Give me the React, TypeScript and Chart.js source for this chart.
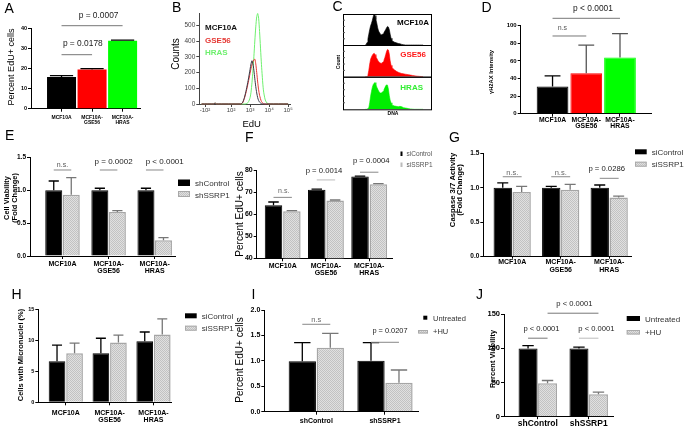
import React, { useEffect, useRef } from 'react';
import { Chart, registerables } from 'chart.js';
Chart.register(...registerables);

const FONT = '"Liberation Sans", Arial, Helvetica, sans-serif';
const W = 685;
const H = 435;

// ---------------- data ----------------
const cellLineTicks = [['MCF10A'], ['MCF10A-', 'GSE56'], ['MCF10A-', 'HRAS']];
const shTicks = [['shControl'], ['shSSRP1']];

// A
const aEdU = [15.8, 19.6, 34.0];
const aEdUErr = [0.7, 0.4, 0.3];

// B (flow histogram, x in log decades)
const bTicks = [0.63, 2, 3, 4, 5];
const bTickLabels = ['-10²', '10²', '10³', '10⁴', '10⁵'];
const bCountTicks = [0, 100, 200, 300, 400, 500];
const bEdU = [0.45, 1.1, 1.16, 1.22, 2.5, 2.6, 2.7, 2.8, 2.9, 3.0, 3.05, 3.1, 3.15, 3.2, 3.25, 3.3, 3.35, 3.4, 3.45, 3.5, 3.6, 3.7, 3.8, 3.9, 4.0, 5.0];
const bMCF10A = [0, 0, 7, 0, 0, 8, 40, 90, 150, 220, 255, 275, 255, 215, 160, 110, 70, 40, 22, 12, 2, 0, 0, 0, 0, 0];
const bGSE56 = [0, 0, 7, 0, 0, 6, 35, 80, 135, 195, 225, 250, 268, 280, 285, 255, 200, 140, 90, 55, 15, 2, 0, 0, 0, 0];
const bHRAS = [0, 0, 7, 0, 0, 0, 0, 2, 10, 40, 75, 135, 210, 300, 400, 490, 555, 575, 545, 460, 250, 90, 25, 5, 0, 0];

// C (DNA content histograms)
const cChannel = [25, 26, 27, 28, 29, 30, 31, 32, 33, 34, 35, 36, 37, 38, 39, 40, 41, 42, 43, 44, 45, 46, 47, 48, 49, 50, 51, 52, 53, 54, 55, 56,
  58, 60, 62, 64, 66, 68, 70, 72, 74, 76, 78, 80, 82, 84, 86, 88, 90];
const cMCF10A = [0, 0.02, 0.08, 0.2, 0.35, 0.5, 0.62, 0.7, 0.8, 0.92, 1.0, 0.95, 0.82, 0.7, 0.55, 0.45, 0.4, 0.35, 0.33, 0.34, 0.36, 0.4, 0.45, 0.5, 0.56, 0.6, 0.58, 0.5, 0.35, 0.22, 0.15, 0.12,
  0.09, 0.07, 0.05, 0.04, 0.02, 0.01, 0, 0, 0, 0, 0, 0, 0, 0, 0, 0, 0];
const cGSE56 = [0, 0, 0, 0.05, 0.2, 0.4, 0.55, 0.62, 0.68, 0.72, 0.74, 0.7, 0.62, 0.58, 0.52, 0.48, 0.45, 0.43, 0.42, 0.44, 0.47, 0.52, 0.6, 0.7, 0.8, 0.86, 0.84, 0.72, 0.5, 0.36, 0.3, 0.26,
  0.21, 0.17, 0.14, 0.12, 0.1, 0.09, 0.08, 0.07, 0.06, 0.05, 0.04, 0.03, 0.02, 0.015, 0.01, 0.005, 0];
const cHRAS = [0, 0, 0, 0, 0.05, 0.2, 0.4, 0.55, 0.68, 0.76, 0.8, 0.82, 0.76, 0.68, 0.62, 0.56, 0.52, 0.5, 0.5, 0.52, 0.55, 0.6, 0.66, 0.72, 0.75, 0.74, 0.62, 0.42, 0.28, 0.2, 0.15, 0.12,
  0.1, 0.09, 0.08, 0.09, 0.08, 0.05, 0.04, 0.03, 0.02, 0.01, 0.005, 0, 0, 0, 0, 0, 0];

// D
const dH2AX = [31, 46, 64];
const dH2AXErr = [12, 32, 27];

// E
const eShControl = [1.0, 1.0, 1.0];
const eShControlErr = [0.14, 0.03, 0.03];
const eShSSRP1 = [0.93, 0.67, 0.24];
const eShSSRP1Err = [0.26, 0.02, 0.04];

// F
const fSiControl = [64, 71, 77];
const fSiControlErr = [1.5, 0.3, 0.2];
const fSiSSRP1 = [61.3, 66.2, 73.6];
const fSiSSRP1Err = [0.3, 0.2, 0.2];

// G
const gSiControl = [1.0, 1.0, 1.0];
const gSiControlErr = [0.07, 0.02, 0.04];
const gSiSSRP1 = [0.94, 0.97, 0.86];
const gSiSSRP1Err = [0.08, 0.08, 0.02];

// H
const hSiControl = [6.6, 7.9, 9.8];
const hSiControlErr = [2.6, 2.4, 1.5];
const hSiSSRP1 = [7.9, 9.6, 10.9];
const hSiSSRP1Err = [1.6, 1.2, 2.5];

// I
const iUntreated = [0.99, 1.0];
const iUntreatedErr = [0.37, 0.36];
const iHU = [1.26, 0.57];
const iHUErr = [0.28, 0.25];

// J
const jUntreated = [100, 100];
const jUntreatedErr = [4, 2];
const jHU = [49, 33];
const jHUErr = [4, 3];

// ---------------- helpers ----------------
type TextItem = { t: string; x: number; y: number; size: number; bold?: boolean; color?: string; align?: CanvasTextAlign; rot?: boolean };
type Box = { x: number; y: number; w: number; h: number; fill: string; stroke?: string };
type Sig = { a: [number, number]; b: [number, number]; y: number; text: string; dx: number; dy: number; size: number; color?: string; line?: string };
type Series = { values: number[]; errors: number[]; fill: any; border: any; bw: number; errColor: any };
type BarPanel = {
  plot: [number, number, number, number];
  x: [number, number];
  y: [number, number, number];
  dec: number;
  ticks: string[][];
  xFont: number; xLh: number; xPad: number; xTick?: number;
  yFont: number;
  catPct: number; barPct: number; cap: number;
  series: Series[];
  sigs: Sig[];
  texts: TextItem[];
  boxes: Box[];
};

let patternCache: CanvasPattern | null = null;
function getPattern(): CanvasPattern {
  if (patternCache) return patternCache;
  const c = document.createElement('canvas');
  c.width = 4; c.height = 4;
  const g = c.getContext('2d')!;
  g.fillStyle = '#e0e0e0';
  g.fillRect(0, 0, 4, 4);
  g.fillStyle = '#c2c2c2';
  for (let y = 0; y < 4; y++) for (let x = 0; x < 4; x++) if ((x + y) % 2 === 0) g.fillRect(x, y, 1, 1);
  patternCache = g.createPattern(c, 'repeat')!;
  return patternCache;
}

function drawTexts(ctx: CanvasRenderingContext2D, texts: TextItem[]) {
  texts.forEach((tx) => {
    ctx.save();
    ctx.font = `${tx.bold ? 'bold ' : ''}${tx.size}px ${FONT}`;
    ctx.fillStyle = tx.color || '#000';
    if (tx.rot) {
      ctx.translate(tx.x, tx.y);
      ctx.rotate(-Math.PI / 2);
      ctx.textAlign = 'center';
      ctx.textBaseline = 'middle';
      ctx.fillText(tx.t, 0, 0);
    } else {
      ctx.textAlign = tx.align || 'left';
      ctx.textBaseline = 'alphabetic';
      ctx.fillText(tx.t, tx.x, tx.y);
    }
    ctx.restore();
  });
}

function drawBoxes(ctx: CanvasRenderingContext2D, boxes: Box[]) {
  boxes.forEach((b) => {
    ctx.save();
    ctx.fillStyle = b.fill === 'pattern' ? getPattern() : b.fill;
    ctx.fillRect(b.x, b.y, b.w, b.h);
    if (b.stroke) {
      ctx.strokeStyle = b.stroke;
      ctx.lineWidth = 1;
      ctx.strokeRect(b.x + 0.5, b.y + 0.5, b.w - 1, b.h - 1);
    }
    ctx.restore();
  });
}

function pick(v: any, i: number) {
  return Array.isArray(v) ? v[i] : v;
}

function barExtras(p: BarPanel) {
  return {
    id: 'barExtras',
    afterDatasetsDraw(chart: any) {
      const ctx: CanvasRenderingContext2D = chart.ctx;
      const ys = chart.scales.y;
      chart.data.datasets.forEach((ds: any, di: number) => {
        const meta = chart.getDatasetMeta(di);
        meta.data.forEach((bar: any, i: number) => {
          const v = ds.data[i].y;
          const e = ds.errors[i];
          const top = ys.getPixelForValue(v + e);
          const half = bar.width * p.cap;
          ctx.save();
          ctx.strokeStyle = pick(ds.errColor, i);
          ctx.lineWidth = 1.3;
          ctx.beginPath();
          ctx.moveTo(bar.x, bar.y);
          ctx.lineTo(bar.x, top);
          ctx.moveTo(bar.x - half, top);
          ctx.lineTo(bar.x + half, top);
          ctx.stroke();
          ctx.restore();
        });
      });
    },
    afterDraw(chart: any) {
      const ctx: CanvasRenderingContext2D = chart.ctx;
      const ys = chart.scales.y;
      p.sigs.forEach((s) => {
        const m1 = chart.getDatasetMeta(s.a[0]).data[s.a[1]];
        const m2 = chart.getDatasetMeta(s.b[0]).data[s.b[1]];
        const yy = ys.getPixelForValue(s.y);
        ctx.save();
        ctx.strokeStyle = s.line || '#888';
        ctx.lineWidth = 1;
        ctx.beginPath();
        ctx.moveTo(m1.x, yy);
        ctx.lineTo(m2.x, yy);
        ctx.stroke();
        ctx.font = `${s.size}px ${FONT}`;
        ctx.fillStyle = s.color || '#222';
        ctx.textAlign = 'center';
        ctx.textBaseline = 'alphabetic';
        ctx.fillText(s.text, (m1.x + m2.x) / 2 + s.dx, yy - s.dy);
        ctx.restore();
      });
      drawBoxes(ctx, p.boxes);
      drawTexts(ctx, p.texts);
    },
  };
}

function makeBar(canvas: HTMLCanvasElement, p: BarPanel): Chart {
  const pat = getPattern();
  const [x0, yT, x1, yB] = p.plot;
  const YW = 30;
  const XH = Math.min(26, H - yB - 0.5);
  const yt: number[] = [];
  for (let v = p.y[0]; v <= p.y[1] + 1e-9; v += p.y[2]) yt.push(+v.toFixed(6));
  const cfg: any = {
    type: 'bar',
    data: {
      datasets: p.series.map((s) => ({
        data: s.values.map((v, i) => ({ x: i, y: v })),
        backgroundColor: s.fill === 'pattern' ? pat : s.fill,
        borderColor: s.border,
        borderWidth: s.bw,
        borderSkipped: 'start',
        categoryPercentage: p.catPct,
        barPercentage: p.barPct,
        errors: s.errors,
        errColor: s.errColor,
      })),
    },
    options: {
      animation: false,
      responsive: false,
      events: [],
      layout: { padding: { left: x0 - YW, top: yT, right: W - x1, bottom: H - yB - XH } },
      plugins: { legend: { display: false }, tooltip: { enabled: false } },
      scales: {
        x: {
          type: 'linear',
          min: p.x[0],
          max: p.x[1],
          offset: false,
          afterBuildTicks: (s: any) => { s.ticks = p.ticks.map((_, i) => ({ value: i })); },
          afterFit: (s: any) => { s.height = XH; },
          ticks: {
            autoSkip: false, maxRotation: 0, minRotation: 0, padding: p.xPad, color: '#000',
            font: { family: FONT, size: p.xFont, weight: 'bold', lineHeight: p.xLh },
            callback: (v: number) => p.ticks[Math.round(v)],
          },
          grid: { offset: false, drawOnChartArea: false, drawTicks: true, tickLength: p.xTick ?? 3, color: '#000', lineWidth: 1 },
          border: { display: true, color: '#000', width: 1 },
        },
        y: {
          type: 'linear',
          min: p.y[0],
          max: p.y[1],
          beginAtZero: false,
          afterBuildTicks: (s: any) => { s.ticks = yt.map((v) => ({ value: v })); },
          afterFit: (s: any) => { s.width = YW; },
          ticks: {
            padding: 1, color: '#000',
            font: { family: FONT, size: p.yFont, weight: 'bold' },
            callback: (v: number) => Number(v).toFixed(p.dec),
          },
          grid: { drawOnChartArea: false, drawTicks: true, tickLength: 3, color: '#000', lineWidth: 1 },
          border: { display: true, color: '#000', width: 1 },
        },
      },
    },
    plugins: [barExtras(p)],
  };
  return new Chart(canvas, cfg);
}

// ---------------- panel configs ----------------
const blackSeries = (values: number[], errors: number[]): Series => ({ values, errors, fill: '#000', border: '#000', bw: 1, errColor: '#000' });
const graySeries = (values: number[], errors: number[]): Series => ({ values, errors, fill: 'pattern', border: '#a6a6a6', bw: 1.5, errColor: '#777' });

const panelA: BarPanel = {
  plot: [31, 28.7, 140, 108.7], x: [-1.0, 2.57], y: [0, 40, 10], dec: 0,
  ticks: cellLineTicks, xFont: 5, xLh: 1.0, xPad: 3, yFont: 5.5,
  catPct: 1, barPct: 0.95, cap: 0.4,
  series: [{ values: aEdU, errors: aEdUErr, fill: ['#000', '#ff0000', '#00ff00'], border: ['#000', '#ff0000', '#00ff00'], bw: 0, errColor: '#000' }],
  sigs: [
    { a: [0, 0], b: [0, 1], y: 27, text: 'p = 0.0178', dx: 6, dy: 8.3, size: 8.4, line: '#777' },
    { a: [0, 0], b: [0, 2], y: 41.5, text: 'p = 0.0007', dx: 6.5, dy: 7.4, size: 8.4, line: '#777' },
  ],
  texts: [
    { t: 'A', x: 4.5, y: 12.7, size: 14 },
    { t: 'Percent EdU+ cells', x: 12, y: 67, size: 9, rot: true },
  ],
  boxes: [],
};

const panelD: BarPanel = {
  plot: [520.7, 25.7, 651.7, 113.7], x: [-0.944, 2.94], y: [0, 100, 20], dec: 0,
  ticks: cellLineTicks, xFont: 6.8, xLh: 0.95, xPad: 0, yFont: 6,
  catPct: 1, barPct: 0.94, cap: 0.25,
  series: [{ values: dH2AX, errors: dH2AXErr, fill: ['#000', '#ff0000', '#00ff00'], border: ['#000', '#ff0000', '#00ff00'], bw: 1, errColor: ['#000', '#555', '#555'] }],
  sigs: [
    { a: [0, 0], b: [0, 1], y: 88.3, text: 'n.s', dx: -7, dy: 6, size: 7, color: '#555', line: '#777' },
    { a: [0, 0], b: [0, 2], y: 108.4, text: 'p < 0.0001', dx: 6.7, dy: 7.6, size: 8.4, line: '#777' },
  ],
  texts: [
    { t: 'D', x: 481.5, y: 11.7, size: 14 },
    { t: 'γH2AX Intensity', x: 491, y: 72, size: 5.8, bold: true, rot: true },
  ],
  boxes: [],
};

const panelE: BarPanel = {
  plot: [30, 157.3, 175, 256], x: [-0.705, 2.44], y: [0, 1.5, 0.5], dec: 1,
  ticks: cellLineTicks, xFont: 7, xLh: 1.0, xPad: 1.7, yFont: 6.5,
  catPct: 0.76, barPct: 0.97, cap: 0.3,
  series: [blackSeries(eShControl, eShControlErr), graySeries(eShSSRP1, eShSSRP1Err)],
  sigs: [
    { a: [0, 0], b: [1, 0], y: 1.307, text: 'n.s.', dx: 0, dy: 3, size: 7, color: '#555' },
    { a: [0, 1], b: [1, 1], y: 1.307, text: 'p = 0.0002', dx: 5, dy: 5.7, size: 8 },
    { a: [0, 2], b: [1, 2], y: 1.307, text: 'p < 0.0001', dx: 10, dy: 5.7, size: 8 },
  ],
  texts: [
    { t: 'E', x: 5, y: 140, size: 14 },
    { t: 'Cell Viability', x: 6.7, y: 198, size: 7.4, bold: true, rot: true },
    { t: '(Fold Change)', x: 15, y: 198, size: 7.4, bold: true, rot: true },
    { t: 'shControl', x: 195, y: 186, size: 8, color: '#333' },
    { t: 'shSSRP1', x: 195, y: 197.5, size: 8, color: '#333' },
  ],
  boxes: [
    { x: 178, y: 179.5, w: 12, h: 6.5, fill: '#000' },
    { x: 178, y: 191, w: 12, h: 6, fill: 'pattern', stroke: '#a8a8a8' },
  ],
};

const panelF: BarPanel = {
  plot: [256.7, 170, 393, 258.3], x: [-0.601, 2.55], y: [40, 80, 10], dec: 0,
  ticks: cellLineTicks, xFont: 7, xLh: 1.0, xPad: 1, yFont: 7,
  catPct: 0.85, barPct: 0.95, cap: 0.3,
  series: [blackSeries(fSiControl, fSiControlErr), graySeries(fSiSSRP1, fSiSSRP1Err)],
  sigs: [
    { a: [0, 0], b: [1, 0], y: 67.6, text: 'n.s.', dx: 1, dy: 4, size: 7, color: '#666' },
    { a: [0, 1], b: [1, 1], y: 75.5, text: 'p = 0.0014', dx: -2, dy: 6.7, size: 7.7, line: '#bbb' },
    { a: [0, 2], b: [1, 2], y: 79.0, text: 'p = 0.0004', dx: 2, dy: 9, size: 7.7 },
  ],
  texts: [
    { t: 'F', x: 245, y: 142, size: 14 },
    { t: 'Percent EdU+ cells', x: 240, y: 214, size: 10, rot: true },
    { t: 'siControl', x: 406.5, y: 155.5, size: 6.5, color: '#555' },
    { t: 'siSSRP1', x: 406.5, y: 167, size: 6.5, color: '#555' },
  ],
  boxes: [
    { x: 400.5, y: 151.5, w: 2, h: 4.5, fill: '#000' },
    { x: 400.5, y: 162.5, w: 2, h: 4.5, fill: '#bbb' },
  ],
};

const panelG: BarPanel = {
  plot: [483.3, 153.3, 631.7, 256.7], x: [-0.596, 2.464], y: [0, 1.5, 0.5], dec: 1,
  ticks: cellLineTicks, xFont: 7, xLh: 1.1, xPad: 0, xTick: 2, yFont: 6.5,
  catPct: 0.78, barPct: 0.97, cap: 0.3,
  series: [blackSeries(gSiControl, gSiControlErr), graySeries(gSiSSRP1, gSiSSRP1Err)],
  sigs: [
    { a: [0, 0], b: [1, 0], y: 1.16, text: 'n.s.', dx: 0, dy: 1.5, size: 7.5, color: '#666' },
    { a: [0, 1], b: [1, 1], y: 1.16, text: 'n.s.', dx: 0, dy: 1.5, size: 7.5, color: '#666' },
    { a: [0, 2], b: [1, 2], y: 1.137, text: 'p = 0.0286', dx: -2.5, dy: 7.6, size: 7.7 },
  ],
  texts: [
    { t: 'G', x: 449, y: 142, size: 14 },
    { t: 'Caspase 3/7 Activity', x: 452.5, y: 190, size: 7.7, bold: true, rot: true },
    { t: '(Fold Change)', x: 460, y: 190, size: 7.7, bold: true, rot: true },
    { t: 'siControl', x: 651.7, y: 155, size: 8, color: '#333' },
    { t: 'siSSRP1', x: 651.7, y: 167, size: 8, color: '#333' },
  ],
  boxes: [
    { x: 635, y: 149.3, w: 11.7, h: 5, fill: '#000' },
    { x: 635, y: 161.7, w: 11.7, h: 5, fill: 'pattern', stroke: '#aaa' },
  ],
};

const panelH: BarPanel = {
  plot: [38.3, 309, 171.7, 402.3], x: [-0.627, 2.415], y: [0, 15, 5], dec: 0,
  ticks: cellLineTicks, xFont: 7, xLh: 1.05, xPad: 3.7, yFont: 5.5,
  catPct: 0.8, barPct: 0.95, cap: 0.3,
  series: [blackSeries(hSiControl, hSiControlErr), graySeries(hSiSSRP1, hSiSSRP1Err)],
  sigs: [],
  texts: [
    { t: 'H', x: 11.5, y: 298.5, size: 14 },
    { t: 'Cells with Micronuclei (%)', x: 21, y: 355, size: 7.5, bold: true, rot: true },
    { t: 'siControl', x: 201.7, y: 319, size: 8, color: '#333' },
    { t: 'siSSRP1', x: 201.7, y: 331, size: 8, color: '#333' },
  ],
  boxes: [
    { x: 185, y: 313.3, w: 11.7, h: 5, fill: '#000' },
    { x: 185, y: 325.7, w: 11.7, h: 5, fill: 'pattern', stroke: '#aaa' },
  ],
};

const panelI: BarPanel = {
  plot: [264.3, 310, 418.3, 411.7], x: [-0.757, 1.485], y: [0, 2, 0.5], dec: 1,
  ticks: shTicks, xFont: 7, xLh: 1.0, xPad: 2.6, yFont: 7,
  catPct: 0.815, barPct: 0.975, cap: 0.3,
  series: [blackSeries(iUntreated, iUntreatedErr), graySeries(iHU, iHUErr)],
  sigs: [
    { a: [0, 0], b: [1, 0], y: 1.719, text: 'n.s', dx: 0, dy: 2, size: 7.5, color: '#666' },
    { a: [0, 1], b: [1, 1], y: 1.365, text: 'p = 0.0207', dx: 5, dy: 9, size: 7.4 },
  ],
  texts: [
    { t: 'I', x: 251.5, y: 298.5, size: 14 },
    { t: 'Percent EdU+ cells', x: 240, y: 360, size: 10, rot: true },
    { t: 'Untreated', x: 433, y: 320.5, size: 7.5, color: '#333' },
    { t: '+HU', x: 433, y: 334, size: 7.5, color: '#333' },
  ],
  boxes: [
    { x: 423.3, y: 315.7, w: 4, h: 4, fill: '#000' },
    { x: 418, y: 330, w: 10, h: 3.5, fill: 'pattern', stroke: '#aaa' },
  ],
};

const panelJ: BarPanel = {
  plot: [504, 314.3, 613.3, 416.7], x: [-0.664, 1.483], y: [0, 150, 50], dec: 0,
  ticks: shTicks, xFont: 8.5, xLh: 1.0, xPad: 0, xTick: 2.5, yFont: 7.5,
  catPct: 0.766, barPct: 0.974, cap: 0.3,
  series: [blackSeries(jUntreated, jUntreatedErr), graySeries(jHU, jHUErr)],
  sigs: [
    { a: [1, 0], b: [1, 1], y: 151.6, text: 'p < 0.0001', dx: 1.4, dy: 7.6, size: 7.6, line: '#777' },
    { a: [0, 0], b: [1, 0], y: 115, text: 'p < 0.0001', dx: 3.7, dy: 7.6, size: 7.6, line: '#777' },
    { a: [0, 1], b: [1, 1], y: 115, text: 'p < 0.0001', dx: 7.7, dy: 7.6, size: 7.6, line: '#bbb' },
  ],
  texts: [
    { t: 'J', x: 476, y: 298.5, size: 14 },
    { t: 'Percent Viability', x: 493, y: 359, size: 7.5, bold: true, rot: true },
    { t: 'Untreated', x: 645, y: 321.5, size: 8, color: '#333' },
    { t: '+HU', x: 645, y: 335, size: 8, color: '#333' },
  ],
  boxes: [
    { x: 626.7, y: 316, w: 13.3, h: 5, fill: '#000' },
    { x: 626.7, y: 330, w: 13.3, h: 4.5, fill: 'pattern', stroke: '#aaa' },
  ],
};

// ---------------- panel B ----------------
function makeB(canvas: HTMLCanvasElement): Chart {
  const x0 = 199.3, x1 = 290, yB = 104, yT = 13.5;
  const YW = 30, XH = 14;
  const series = [
    { d: bMCF10A, c: '#3a3a48' },
    { d: bGSE56, c: '#e53935' },
    { d: bHRAS, c: '#6ef06e' },
  ];
  const texts: TextItem[] = [
    { t: 'B', x: 172, y: 11.7, size: 14 },
    { t: 'Counts', x: 176, y: 54, size: 10, rot: true },
    { t: 'EdU', x: 251.7, y: 127, size: 9.5, align: 'center' },
    { t: 'MCF10A', x: 205, y: 30, size: 8, bold: true, color: '#111' },
    { t: 'GSE56', x: 205, y: 43.3, size: 8, bold: true, color: '#e53935' },
    { t: 'HRAS', x: 205, y: 55, size: 8, bold: true, color: '#6ef06e' },
  ];
  const cfg: any = {
    type: 'line',
    data: {
      datasets: series.map((s) => ({
        data: bEdU.map((x, i) => ({ x, y: s.d[i] })),
        borderColor: s.c, borderWidth: 1, pointRadius: 0, fill: false, tension: 0.25, clip: false,
      })),
    },
    options: {
      animation: false, responsive: false, events: [],
      layout: { padding: { left: x0 - YW, top: yT, right: W - x1, bottom: H - yB - XH } },
      plugins: { legend: { display: false }, tooltip: { enabled: false } },
      scales: {
        x: {
          type: 'linear', min: 0.33, max: 5.1,
          afterBuildTicks: (s: any) => { s.ticks = bTicks.map((v) => ({ value: v })); },
          afterFit: (s: any) => { s.height = XH; },
          ticks: { autoSkip: false, maxRotation: 0, padding: 0, color: '#444', font: { family: FONT, size: 6 }, callback: (_v: number, i: number) => bTickLabels[i] },
          grid: { drawOnChartArea: false, tickLength: 3, color: '#444' },
          border: { color: '#444', width: 1 },
        },
        y: {
          type: 'linear', min: 0, max: 575,
          afterBuildTicks: (s: any) => { s.ticks = bCountTicks.map((v) => ({ value: v })); },
          afterFit: (s: any) => { s.width = YW; },
          ticks: { padding: 1, color: '#444', font: { family: FONT, size: 6.5 } },
          grid: { drawOnChartArea: false, tickLength: 3, color: '#444' },
          border: { color: '#444', width: 1 },
        },
      },
    },
    plugins: [{ id: 'bText', afterDraw: (chart: any) => drawTexts(chart.ctx, texts) }],
  };
  return new Chart(canvas, cfg);
}

// ---------------- panel C ----------------
function makeCPart(canvas: HTMLCanvasElement, values: number[], color: string, top: number, bottom: number, texts: TextItem[]): Chart {
  const left = 343, right = 432;
  const cfg: any = {
    type: 'line',
    data: {
      datasets: [{
        data: cChannel.map((x, i) => ({ x, y: values[i] })),
        borderColor: color, backgroundColor: color, borderWidth: 0.6, pointRadius: 0, fill: 'origin', tension: 0,
      }],
    },
    options: {
      animation: false, responsive: false, events: [],
      layout: { padding: { left, top, right: W - right, bottom: H - bottom } },
      plugins: { legend: { display: false }, tooltip: { enabled: false } },
      scales: {
        x: { type: 'linear', min: 0, max: 100, display: false },
        y: { type: 'linear', min: 0, max: 1, display: false },
      },
    },
    plugins: [{
      id: 'cBox',
      afterDraw: (chart: any) => {
        const ctx: CanvasRenderingContext2D = chart.ctx;
        const a = chart.chartArea;
        ctx.save();
        ctx.strokeStyle = '#000';
        ctx.lineWidth = 1;
        ctx.strokeRect(a.left + 0.5, a.top + 0.5, a.right - a.left - 1, a.bottom - a.top);
        ctx.strokeStyle = '#555';
        ctx.beginPath();
        for (let k = 1; k < 5; k++) {
          const yy = a.top + ((a.bottom - a.top) * k) / 5;
          ctx.moveTo(a.left, yy);
          ctx.lineTo(a.left + 2, yy);
        }
        ctx.stroke();
        ctx.restore();
        drawTexts(ctx, texts);
      },
    }],
  };
  return new Chart(canvas, cfg);
}

const cTexts1: TextItem[] = [
  { t: 'C', x: 332.5, y: 11, size: 14 },
  { t: 'Count', x: 338.5, y: 62, size: 5, bold: true, rot: true },
  { t: 'DNA', x: 393, y: 115, size: 5, bold: true, align: 'center' },
  { t: 'MCF10A', x: 429, y: 25, size: 8, bold: true, align: 'right' },
];
const cTexts2: TextItem[] = [{ t: 'GSE56', x: 426, y: 56.7, size: 8, bold: true, color: '#ff1a1a', align: 'right' }];
const cTexts3: TextItem[] = [{ t: 'HRAS', x: 423, y: 90, size: 8, bold: true, color: '#33ee33', align: 'right' }];

// ---------------- React ----------------
type Maker = (c: HTMLCanvasElement) => Chart;

function ChartCanvas({ make }: { make: Maker }) {
  const ref = useRef<HTMLCanvasElement>(null);
  useEffect(() => {
    const ch = make(ref.current!);
    return () => ch.destroy();
  }, [make]);
  return <canvas ref={ref} width={W} height={H} style={{ position: 'absolute', left: 0, top: 0, width: W, height: H }} />;
}

const makers: Maker[] = [
  (c) => makeBar(c, panelA),
  (c) => makeB(c),
  (c) => makeCPart(c, cMCF10A, '#000000', 14, 45, cTexts1),
  (c) => makeCPart(c, cGSE56, '#ff0000', 45, 76.7, cTexts2),
  (c) => makeCPart(c, cHRAS, '#00ee00', 76.7, 109.3, cTexts3),
  (c) => makeBar(c, panelD),
  (c) => makeBar(c, panelE),
  (c) => makeBar(c, panelF),
  (c) => makeBar(c, panelG),
  (c) => makeBar(c, panelH),
  (c) => makeBar(c, panelI),
  (c) => makeBar(c, panelJ),
];

export default function App() {
  return (
    <div style={{ position: 'absolute', left: 0, top: 0, width: W, height: H, background: '#fff', overflow: 'hidden' }}>
      {makers.map((m, i) => (
        <ChartCanvas key={i} make={m} />
      ))}
    </div>
  );
}
